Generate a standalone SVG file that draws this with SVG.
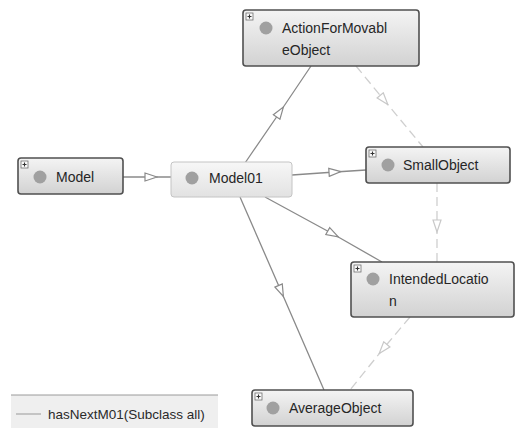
<svg xmlns="http://www.w3.org/2000/svg" width="515" height="428" viewBox="0 0 515 428">
  <defs>
    <linearGradient id="boxFill" x1="0" y1="0" x2="0" y2="1">
      <stop offset="0" stop-color="#f4f4f4"/>
      <stop offset="1" stop-color="#d2d2d2"/>
    </linearGradient>
    <linearGradient id="focusFill" x1="0" y1="0" x2="0" y2="1">
      <stop offset="0" stop-color="#f7f7f7"/>
      <stop offset="1" stop-color="#e2e2e2"/>
    </linearGradient>
    <!-- open triangle placed mid-edge, pointing along the edge -->
    <marker id="tri" viewBox="0 0 14 10" refX="7" refY="5" markerWidth="14" markerHeight="10" markerUnits="userSpaceOnUse" orient="auto">
      <path d="M1,1 L13,5 L1,9 Z" fill="#ffffff" stroke="#8a8a8a" stroke-width="1.2"/>
    </marker>
    <marker id="triLight" viewBox="0 0 14 10" refX="7" refY="5" markerWidth="14" markerHeight="10" markerUnits="userSpaceOnUse" orient="auto">
      <path d="M1,1 L13,5 L1,9 Z" fill="#ffffff" stroke="#c8c8c8" stroke-width="1.2"/>
    </marker>
  </defs>
  <style>
    .box { fill: url(#boxFill); stroke: #505050; stroke-width: 1.6; }
    .focus { fill: url(#focusFill); stroke: #c4c4c4; stroke-width: 1; }
    .dot { fill: #a0a0a0; }
    .plus rect { fill: #fafafa; stroke: #707070; stroke-width: 0.8; }
    .plus path { stroke: #333; stroke-width: 1.1; }
    .label { font-family: "Liberation Sans", Arial, sans-serif; font-size: 14px; fill: #262626; }
    .edge { fill: none; stroke: #8a8a8a; stroke-width: 1.3; }
    .dash { fill: none; stroke: #cfcfcf; stroke-width: 1.3; stroke-dasharray: 9 5; }
    .legend { font-family: "Liberation Sans", Arial, sans-serif; font-size: 13.5px; fill: #2a2a2a; }
  </style>

  <rect width="515" height="428" fill="#ffffff"/>

  <!-- connectors -->
  <g id="connectors">
    <path class="edge" d="M123,177 L151,177 L171,177" marker-mid="url(#tri)"/>
    <path class="edge" d="M245,163 L280,112 L311,66" marker-mid="url(#tri)"/>
    <path class="edge" d="M292,175 L335,172 L366,170" marker-mid="url(#tri)"/>
    <path class="edge" d="M265,197 L333,234 L382,262" marker-mid="url(#tri)"/>
    <path class="edge" d="M240,197 L281,291 L324,390" marker-mid="url(#tri)"/>
    <path class="dash" d="M356,66 L384,100 L423,147" marker-mid="url(#triLight)"/>
    <path class="dash" d="M437,183 L437,226 L437,262" marker-mid="url(#triLight)"/>
    <path class="dash" d="M410,317 L383,349 L350,390" marker-mid="url(#triLight)"/>
  </g>

  <g id="node-ActionForMovableObject">
    <rect class="box" x="243" y="10" width="176" height="56" rx="3"/>
    <g class="plus"><rect x="246" y="13" width="7" height="7"/><path d="M247.5,16.5 H251.5 M249.5,14.5 V18.5"/></g>
    <circle class="dot" cx="266" cy="28" r="6.5"/>
    <text class="label" x="282" y="33">ActionForMovabl</text>
    <text class="label" x="282" y="55">eObject</text>
  </g>

  <g id="node-Model">
    <rect class="box" x="18" y="158" width="105" height="36" rx="3"/>
    <g class="plus"><rect x="21" y="161" width="7" height="7"/><path d="M22.5,164.5 H26.5 M24.5,162.5 V166.5"/></g>
    <circle class="dot" cx="40" cy="177" r="6.5"/>
    <text class="label" x="56" y="182">Model</text>
  </g>

  <g id="node-Model01">
    <rect class="focus" x="171" y="162" width="121" height="35" rx="3"/>
    <circle class="dot" cx="192" cy="178" r="6.5"/>
    <text class="label" x="209" y="183">Model01</text>
  </g>

  <g id="node-SmallObject">
    <rect class="box" x="366" y="147" width="144" height="36" rx="3"/>
    <g class="plus"><rect x="369" y="150" width="7" height="7"/><path d="M370.5,153.5 H374.5 M372.5,151.5 V155.5"/></g>
    <circle class="dot" cx="388" cy="165" r="6.5"/>
    <text class="label" x="403" y="170">SmallObject</text>
  </g>

  <g id="node-IntendedLocation">
    <rect class="box" x="351" y="262" width="163" height="55" rx="3"/>
    <g class="plus"><rect x="354" y="265" width="7" height="7"/><path d="M355.5,268.5 H359.5 M357.5,266.5 V270.5"/></g>
    <circle class="dot" cx="373" cy="279" r="6.5"/>
    <text class="label" x="389" y="284">IntendedLocatio</text>
    <text class="label" x="389" y="306">n</text>
  </g>

  <g id="node-AverageObject">
    <rect class="box" x="252" y="390" width="161" height="36" rx="3"/>
    <g class="plus"><rect x="255" y="393" width="7" height="7"/><path d="M256.5,396.5 H260.5 M258.5,394.5 V398.5"/></g>
    <circle class="dot" cx="273" cy="408" r="6.5"/>
    <text class="label" x="289" y="413">AverageObject</text>
  </g>

  <g id="legend">
    <rect x="11" y="395" width="207" height="33" fill="#efefef"/>
    <line x1="11" y1="395" x2="218" y2="395" stroke="#9a9a9a" stroke-width="1"/>
    <line x1="16" y1="414" x2="41" y2="414" stroke="#c4c4c4" stroke-width="2"/>
    <text class="legend" x="48" y="419">hasNextM01(Subclass all)</text>
  </g>
</svg>
